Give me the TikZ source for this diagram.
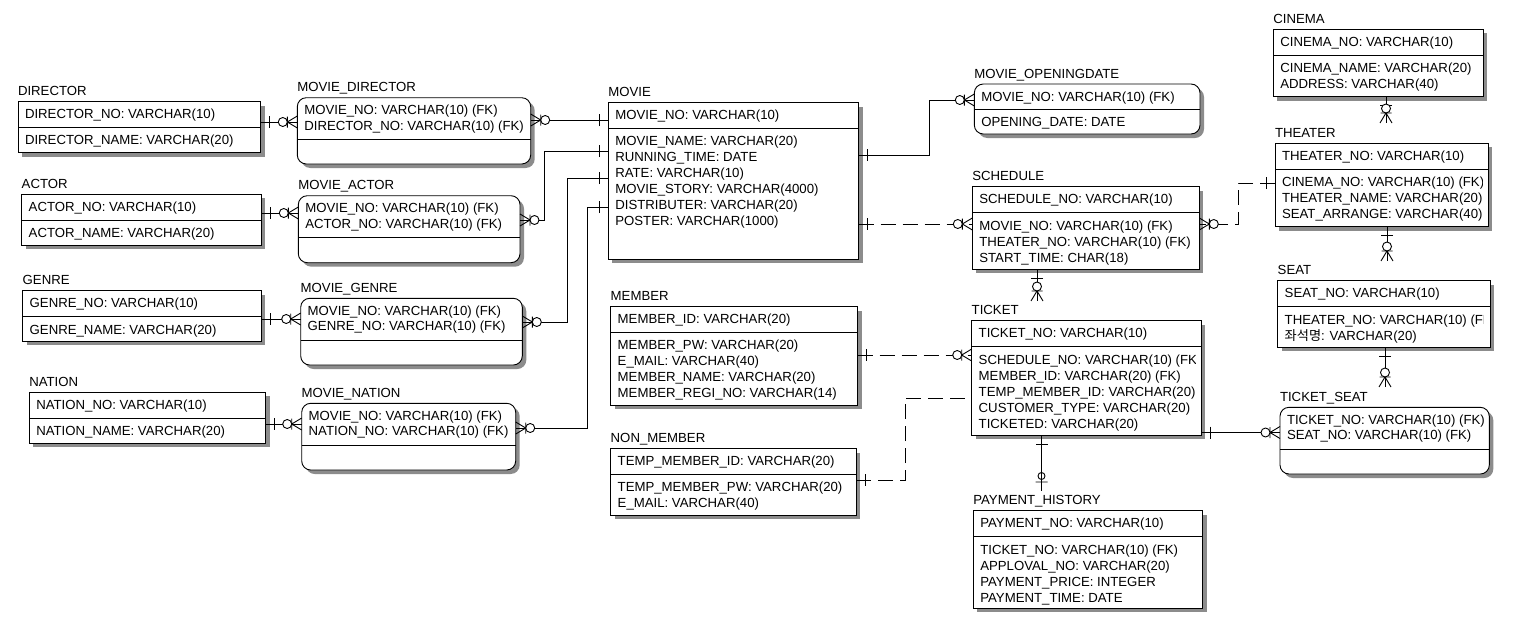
\documentclass[tikz,border=0pt]{standalone}
\usepackage{fontspec}
\setmainfont{Liberation Sans}
\newfontfamily\kr{Noto Sans CJK KR}
\usetikzlibrary{shadows}
\newcommand\fs{\fontsize{13.2}{16}\selectfont}
\tikzset{
  ebox/.style={draw, fill=white, line width=0.9pt, inner sep=0pt, outer sep=0pt,
    drop shadow={shadow xshift=4pt, shadow yshift=-4pt, fill=black!45, opacity=1}},
  rbox/.style={rounded corners=9pt},
  attr/.style={anchor=base west, inner sep=0pt, outer sep=0pt, font=\fs},
  conn/.style={line width=0.9pt},
  idash/.style={dash pattern=on 15pt off 7pt},
  one/.pic={\draw[conn] (9,-6) -- (9,6);},
  zm/.pic={\draw[conn] (0,-6) -- (10,0) -- (0,6) (10,-5.5) -- (10,5.5);
           \draw[conn,fill=white] (14.5,0) circle[radius=4.5];},
  zo/.pic={\draw[conn] (9,-6) -- (9,6) (15,0) circle[radius=3.5];},
}
% box: [style]{name}{x1}{y1}{x2}{y2}{ydiv}
\newcommand\ent[7][]{%
  \node[ebox,#1,minimum width={(#5-#3)*1pt},minimum height={(#6-#4)*1pt},anchor=north west] (#2) at (#3,#4) {};
  \draw[line width=0.9pt] (#2.west |- 0,#7) -- (#2.east |- 0,#7);
}
% text: {name}{x1}{y1}{ydiv}{title}{keys}{attrs}
\newcommand\etext[7]{%
  \node[attr] (#1-t) at ({#2},{#3-6}) {#5};
  \foreach \eline [count=\n] in {#6} {\node[attr] (#1-k\n) at ({#2+7},{#3+17+16*(\n-1)}) {\eline};}
  \foreach \eline [count=\n] in {#7} {\node[attr] (#1-a\n) at ({#2+7},{#4+17.3+16*(\n-1)}) {\eline};}
}
% key-only text: {name}{x1}{y1}{title}{keys}
\newcommand\etextk[5]{%
  \node[attr] (#1-t) at ({#2},{#3-6}) {#4};
  \foreach \eline [count=\n] in {#5} {\node[attr] (#1-k\n) at ({#2+7},{#3+17+15.6*(\n-1)}) {\eline};}
}
\begin{document}
\begin{tikzpicture}[x=1pt,y=-1pt]
\fill[white] (0,0) rectangle (1513,627);
\useasboundingbox (0,0) rectangle (1513,627);

% ---------------- boxes ----------------
\ent{director}{18}{101.5}{260.5}{152.5}{127.3}
\etext{director}{18}{101.5}{127.3}{DIRECTOR}{DIRECTOR\_NO: VARCHAR(10)}{DIRECTOR\_NAME: VARCHAR(20)}

\ent{actor}{21.7}{194.3}{261}{245}{220.3}
\etext{actor}{21.7}{194.3}{220.3}{ACTOR}{ACTOR\_NO: VARCHAR(10)}{ACTOR\_NAME: VARCHAR(20)}

\ent{genre}{22.7}{290.7}{261}{341}{316.7}
\etext{genre}{22.7}{290.7}{316.7}{GENRE}{GENRE\_NO: VARCHAR(10)}{GENRE\_NAME: VARCHAR(20)}

\ent{nation}{29.3}{392.3}{265.7}{443}{418.3}
\etext{nation}{29.3}{392.3}{418.3}{NATION}{NATION\_NO: VARCHAR(10)}{NATION\_NAME: VARCHAR(20)}

\ent[rbox]{mdir}{297.3}{97.7}{530.7}{164}{139.3}
\etextk{mdir}{297.3}{97.7}{MOVIE\_DIRECTOR}{MOVIE\_NO: VARCHAR(10) (FK),DIRECTOR\_NO: VARCHAR(10) (FK)}

\ent[rbox]{mact}{298.3}{195.7}{520}{262.7}{237.7}
\etextk{mact}{298.3}{195.7}{MOVIE\_ACTOR}{MOVIE\_NO: VARCHAR(10) (FK),ACTOR\_NO: VARCHAR(10) (FK)}

\ent[rbox]{mgen}{300.7}{298.3}{522.3}{365}{340.7}
\etextk{mgen}{300.7}{298.3}{MOVIE\_GENRE}{MOVIE\_NO: VARCHAR(10) (FK),GENRE\_NO: VARCHAR(10) (FK)}

\ent[rbox]{mnat}{301.7}{403.3}{515.7}{470}{445}
\etextk{mnat}{301.7}{403.3}{MOVIE\_NATION}{MOVIE\_NO: VARCHAR(10) (FK),NATION\_NO: VARCHAR(10) (FK)}

\ent{movie}{608.3}{102.7}{858.7}{259}{128.3}
\etext{movie}{608.3}{102.7}{128.3}{MOVIE}{MOVIE\_NO: VARCHAR(10)}{MOVIE\_NAME: VARCHAR(20),RUNNING\_TIME: DATE,RATE: VARCHAR(10),MOVIE\_STORY: VARCHAR(4000),DISTRIBUTER: VARCHAR(20),POSTER: VARCHAR(1000)}

\ent{member}{610.7}{306.7}{857.7}{405.3}{332.3}
\etext{member}{610.7}{306.7}{332.3}{MEMBER}{MEMBER\_ID: VARCHAR(20)}{MEMBER\_PW: VARCHAR(20),E\_MAIL: VARCHAR(40),MEMBER\_NAME: VARCHAR(20),MEMBER\_REGI\_NO: VARCHAR(14)}

\ent{nonmember}{610.7}{448.7}{856}{515.3}{474.3}
\etext{nonmember}{610.7}{448.7}{474.3}{NON\_MEMBER}{TEMP\_MEMBER\_ID: VARCHAR(20)}{TEMP\_MEMBER\_PW: VARCHAR(20),E\_MAIL: VARCHAR(40)}

\ent[rbox]{mod}{974.3}{84}{1200}{134}{109.3}
\etext{mod}{974.3}{84}{109.3}{MOVIE\_OPENINGDATE}{MOVIE\_NO: VARCHAR(10) (FK)}{OPENING\_DATE: DATE}

\ent{sched}{972.3}{186.7}{1199.3}{269.3}{212.7}
\etext{sched}{972.3}{186.7}{212.7}{SCHEDULE}{SCHEDULE\_NO: VARCHAR(10)}{MOVIE\_NO: VARCHAR(10) (FK),THEATER\_NO: VARCHAR(10) (FK),START\_TIME: CHAR(18)}

\ent{cinema}{1273.3}{29.3}{1483.3}{96.7}{55.3}
\etext{cinema}{1273.3}{29.3}{55.3}{CINEMA}{CINEMA\_NO: VARCHAR(10)}{CINEMA\_NAME: VARCHAR(20),ADDRESS: VARCHAR(40)}

\ent{theater}{1275}{143.3}{1488.3}{226.7}{169.3}
\begin{scope}
\clip (1260,110) rectangle (1482,226);
\etext{theater}{1275}{143.3}{169.3}{THEATER}{THEATER\_NO: VARCHAR(10)}{CINEMA\_NO: VARCHAR(10) (FK),THEATER\_NAME: VARCHAR(20),SEAT\_ARRANGE: VARCHAR(40)}
\end{scope}

\ent{seat}{1277.7}{280.7}{1490}{347.3}{306.7}
\begin{scope}
\clip (1260,262) rectangle (1483,347);
\etext{seat}{1277.7}{280.7}{306.7}{SEAT}{SEAT\_NO: VARCHAR(10)}{THEATER\_NO: VARCHAR(10) (FK),{\kr 좌석명}: VARCHAR(20)}
\end{scope}

\ent[rbox]{tseat}{1280}{407.3}{1489.3}{474}{449.3}
\etextk{tseat}{1280}{407.3}{TICKET\_SEAT}{TICKET\_NO: VARCHAR(10) (FK),SEAT\_NO: VARCHAR(10) (FK)}

\ent{ticket}{971.7}{320.7}{1201.3}{435}{346.7}
\begin{scope}
\clip (960,300) rectangle (1195,435);
\etext{ticket}{971.7}{320.7}{346.7}{TICKET}{TICKET\_NO: VARCHAR(10)}{SCHEDULE\_NO: VARCHAR(10) (FK),MEMBER\_ID: VARCHAR(20) (FK),TEMP\_MEMBER\_ID: VARCHAR(20) (FK),CUSTOMER\_TYPE: VARCHAR(20),TICKETED: VARCHAR(20)}
\end{scope}

\ent{pay}{973.3}{510.7}{1202.7}{608.3}{536.7}
\etext{pay}{973.3}{510.7}{536.7}{PAYMENT\_HISTORY}{PAYMENT\_NO: VARCHAR(10)}{TICKET\_NO: VARCHAR(10) (FK),APPLOVAL\_NO: VARCHAR(20),PAYMENT\_PRICE: INTEGER,PAYMENT\_TIME: DATE}

% ---------------- connectors ----------------
% left tables to link tables
\draw[conn] (director.east |- 0,122) -- (mdir.west |- 0,122);
\pic at (director.east |- 0,122) {one};
\pic[rotate=180] at (mdir.west |- 0,122) {zm};

\draw[conn] (actor.east |- 0,213) -- (mact.west |- 0,213);
\pic at (actor.east |- 0,213) {one};
\pic[rotate=180] at (mact.west |- 0,213) {zm};

\draw[conn] (genre.east |- 0,319) -- (mgen.west |- 0,319);
\pic at (genre.east |- 0,319) {one};
\pic[rotate=180] at (mgen.west |- 0,319) {zm};

\draw[conn] (nation.east |- 0,424) -- (mnat.west |- 0,424);
\pic at (nation.east |- 0,424) {one};
\pic[rotate=180] at (mnat.west |- 0,424) {zm};

% MOVIE to link tables
\draw[conn] (movie.west |- 0,120) -- (mdir.east |- 0,120);
\pic[rotate=180] at (movie.west |- 0,120) {one};
\pic at (mdir.east |- 0,120) {zm};

\draw[conn] (movie.west |- 0,151) -| (544,220) -- (mact.east |- 0,220);
\pic[rotate=180] at (movie.west |- 0,151) {one};
\pic at (mact.east |- 0,220) {zm};

\draw[conn] (movie.west |- 0,178) -| (567,322) -- (mgen.east |- 0,322);
\pic[rotate=180] at (movie.west |- 0,178) {one};
\pic at (mgen.east |- 0,322) {zm};

\draw[conn] (movie.west |- 0,207) -| (587,428) -- (mnat.east |- 0,428);
\pic[rotate=180] at (movie.west |- 0,207) {one};
\pic at (mnat.east |- 0,428) {zm};

% MOVIE to opening date and schedule
\draw[conn] (movie.east |- 0,155) -| (929,100) -- (mod.west |- 0,100);
\pic at (movie.east |- 0,155) {one};
\pic[rotate=180] at (mod.west |- 0,100) {zm};

\draw[conn,idash] (movie.east |- 0,224) -- (sched.west |- 0,224);
\pic at (movie.east |- 0,224) {one};
\pic[rotate=180] at (sched.west |- 0,224) {zm};

% THEATER to SCHEDULE
\draw[conn,idash] (theater.west |- 0,183) -| (1238,224) -- (sched.east |- 0,224);
\pic[rotate=180] at (theater.west |- 0,183) {one};
\pic at (sched.east |- 0,224) {zm};

% MEMBER / NON_MEMBER to TICKET
\draw[conn,idash] (member.east |- 0,355) -- (ticket.west |- 0,355);
\pic at (member.east |- 0,355) {one};
\pic[rotate=180] at (ticket.west |- 0,355) {zm};

\draw[conn,idash] (nonmember.east |- 0,480) -| (905,398) -- (ticket.west |- 0,398);
\pic at (nonmember.east |- 0,480) {one};

% TICKET to TICKET_SEAT
\draw[conn] (ticket.east |- 0,432.5) -- (tseat.west |- 0,432.5);
\pic at (ticket.east |- 0,432.5) {one};
\pic[rotate=180] at (tseat.west |- 0,432.5) {zm};

% vertical connectors
\coordinate (thT) at (1386,123);
\draw[conn] (cinema.south -| thT) -- (thT);
\pic[rotate=-90] at (cinema.south -| thT) {one};
\pic[rotate=90] at (thT) {zm};

\coordinate (seatT) at (1387,261);
\draw[conn] (theater.south -| seatT) -- (seatT);
\pic[rotate=-90] at (theater.south -| seatT) {one};
\pic[rotate=90] at (seatT) {zm};

\coordinate (tseatT) at (1385,387);
\draw[conn] (seat.south -| tseatT) -- (tseatT);
\pic[rotate=-90] at (seat.south -| tseatT) {one};
\pic[rotate=90] at (tseatT) {zm};

\coordinate (ticketT) at (1037,301);
\draw[conn] (sched.south -| ticketT) -- (ticketT);
\pic[rotate=-90] at (sched.south -| ticketT) {one};
\pic[rotate=90] at (ticketT) {zm};

\coordinate (payT) at (1041.5,491);
\draw[conn] (ticket.south -| payT) -- (payT);
\pic[rotate=-90] at (ticket.south -| payT) {one};
\pic[rotate=90] at (payT) {zo};
\end{tikzpicture}
\end{document}
